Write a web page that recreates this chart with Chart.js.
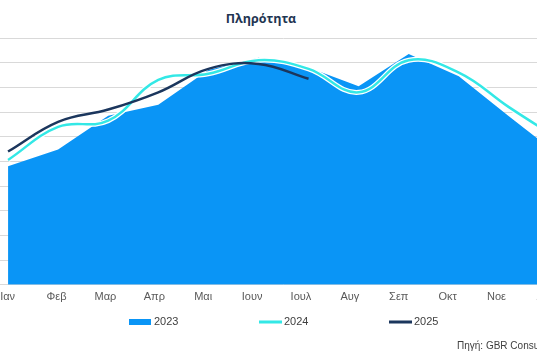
<!DOCTYPE html>
<html>
<head>
<meta charset="utf-8">
<script src="https://cdn.jsdelivr.net/npm/chart.js@4/dist/chart.umd.min.js"></script>
<style>
  html, body { margin: 0; padding: 0; background: #fff; width: 537px; height: 360px; overflow: hidden; position: relative; }
  #wrap { position: absolute; left: -40px; top: 0; width: 646px; height: 360px; }
  #title { position: absolute; top: 10px; left: 161px; width: 200px; text-align: center;
           font: bold 12.5px "Open Sans", sans-serif; color: #1f3552; }
  #source { position: absolute; top: 340px; left: 457px; white-space: nowrap;
            font: 10px "Liberation Sans", Arial, sans-serif; color: #404040; }
</style>
</head>
<body>
<div id="title">Πληρότητα</div>
<div id="wrap"><canvas id="c" width="646" height="360"></canvas></div>
<div id="source">Πηγή: GBR Consulting</div>
<script>
const months = ["Ιαν","Φεβ","Μαρ","Απρ","Μαι","Ιουν","Ιουλ","Αυγ","Σεπ","Οκτ","Νοε","Δεκ"];
const series2023 = [48, 54.8, 68.5, 73, 87, 92, 88, 80.4, 93.5, 84.5, 68.3, 52.5];
const series2024 = [50.6, 64, 66.5, 83, 85.5, 91, 87.5, 78, 91, 86, 72, 59];
const series2025 = [54, 66, 71, 78, 87.5, 89.5, 83.5];
const yTicks = { min: 0, max: 100, step: 10 };

const legendPlugin = {
  id: 'customLegend',
  afterDraw(chart) {
    const ctx = chart.ctx;
    const cx = chart.width / 2;
    const y = 322;
    const items = [
      { text: "2023", color: "#0a95f6", type: "box", x: cx - 154 },
      { text: "2024", color: "#33e8e6", type: "line", x: cx - 24 },
      { text: "2025", color: "#1b365d", type: "line", x: cx + 106 }
    ];
    ctx.save();
    items.forEach(it => {
      ctx.fillStyle = it.color;
      if (it.type === "box") ctx.fillRect(it.x, y - 3, 22, 6);
      else ctx.fillRect(it.x, y - 1.5, 23, 3);
      ctx.fillStyle = "#404040";
      ctx.font = '11px "Liberation Sans", Arial, sans-serif';
      ctx.textBaseline = "middle";
      ctx.textAlign = "left";
      ctx.fillText(it.text, it.x + 25, y);
    });
    ctx.restore();
  }
};

new Chart(document.getElementById('c'), {
  type: 'line',
  data: {
    labels: months,
    datasets: [
      { label: "2025", data: series2025, borderColor: "#1b365d", borderWidth: 2.5,
        pointRadius: 0, tension: 0.4, fill: false, order: 0 },
      { label: "2024", data: series2024, borderColor: "#33e8e6", borderWidth: 2.5,
        pointRadius: 0, tension: 0.4, fill: false, order: 1 },
      { label: "2024-halo", data: series2024, borderColor: "#ffffff", borderWidth: 5,
        pointRadius: 0, tension: 0.4, fill: false, order: 2 },
      { label: "2023", data: series2023, borderColor: "#0a95f6", backgroundColor: "#0a95f6",
        borderWidth: 0, pointRadius: 0, tension: 0, fill: 'origin', order: 3 }
    ]
  },
  options: {
    responsive: false,
    animation: false,
    layout: { padding: { left: 23, right: 22, top: 38, bottom: 50 } },
    plugins: { legend: { display: false }, title: { display: false }, tooltip: { enabled: false } },
    scales: {
      x: { type: 'category', display: false, offset: true },
      xl: {
        type: 'linear', position: 'bottom', min: -0.504, max: 11.79,
        grid: { display: false, drawTicks: false }, border: { display: false },
        ticks: {
          stepSize: 1, includeBounds: false, autoSkip: false, padding: 6,
          color: "#595959", font: { family: '"Liberation Sans", Arial, sans-serif', size: 11 },
          callback: (v) => (Number.isInteger(v) && months[v] !== undefined) ? months[v] : ''
        }
      },
      y: {
        min: yTicks.min, max: yTicks.max,
        grid: { color: "#d9d9d9", lineWidth: 1, drawTicks: false },
        border: { display: false },
        ticks: { display: false, stepSize: yTicks.step }
      }
    }
  },
  plugins: [legendPlugin]
});
</script>
</body>
</html>
